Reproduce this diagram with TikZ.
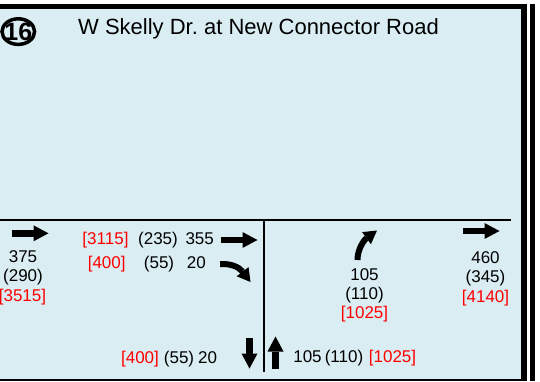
\documentclass[tikz,border=0pt]{standalone}
\usepackage{fontspec}
\setmainfont{Liberation Sans}
\usetikzlibrary{arrows.meta}
\definecolor{panelblue}{RGB}{218,237,243}
\definecolor{volred}{RGB}{255,0,0}
\begin{document}
\begin{tikzpicture}[x=1pt,y=-1pt,
  vol/.style={inner sep=0pt, anchor=base, font=\fontsize{17}{20}\selectfont},
  redvol/.style={vol, text=volred},
  fat/.style={line width=6.5pt, -{Triangle[length=15pt,width=16pt,line width=0pt]}},
  curvy/.style={line width=6pt, -{Triangle[length=13pt,width=15pt,line width=0pt]}},
  road/.style={line width=1.4pt, black}]
\useasboundingbox (0,0) rectangle (540,381);
\fill[white] (0,0) rectangle (540,381);
% panel
\fill[panelblue] (0,9) rectangle (521,378.5);
\fill[black] (0,4) rectangle (527,9);
\fill[black] (521,4) rectangle (527,381);
\fill[black] (0,378.5) rectangle (527,381);
\fill[black] (530,4) rectangle (535,381);
% number and title
\draw[line width=3.5pt] (18.3,31.6) ellipse [x radius=16.3, y radius=12.8];
\node (num) [inner sep=0pt, font=\fontsize{25}{25}\selectfont\bfseries] at (18.3,31.8) {16};
\node (title) [anchor=base west, inner sep=0pt, font=\fontsize{22}{26}\selectfont] at (78,34) {W Skelly Dr.\ at New Connector Road};
% road lines
\coordinate (hl) at (0,220);
\coordinate (hr) at (511,220);
\coordinate (vt) at (264,220);
\coordinate (vb) at (264,372);
\draw[road] (hl) -- (hr);
\draw[road] (vt) -- (vb);
% arrows
\coordinate (a1s) at (11.5,233.3); \coordinate (a1e) at (48.5,233.3);
\draw[fat] (a1s) -- (a1e);
\coordinate (a2s) at (220.5,240); \coordinate (a2e) at (257.5,240);
\draw[fat] (a2s) -- (a2e);
\coordinate (a3s) at (462.5,231); \coordinate (a3e) at (499.5,231);
\draw[fat] (a3s) -- (a3e);
\coordinate (a4s) at (249.5,338); \coordinate (a4e) at (249.5,368.5);
\draw[fat] (a4s) -- (a4e);
\coordinate (a5s) at (275.5,368.5); \coordinate (a5e) at (275.5,336.5);
\draw[fat] (a5s) -- (a5e);
\coordinate (rts) at (220,264); \coordinate (rte) at (250.5,282);
\draw[curvy] (rts) .. controls (231,263.5) and (239,267) .. (rte);
\coordinate (lts) at (357.5,260); \coordinate (lte) at (377,230.5);
\draw[curvy] (lts) .. controls (357.5,249) and (364,240) .. (lte);
% volumes left approach
\node (l1) [vol] at (23,262) {375};
\node (l2) [vol] at (23,281.5) {(290)};
\node (l3) [redvol] at (22.5,301) {[3515]};
% through row
\node (t1) [redvol] at (105.5,244) {[3115]};
\node (t2) [vol] at (158,244) {(235)};
\node (t3) [vol] at (199.7,244) {355};
% right-turn row
\node (r1) [redvol] at (106.7,268) {[400]};
\node (r2) [vol] at (159,268) {(55)};
\node (r3) [vol] at (196.3,268) {20};
% bottom left row
\node (b1) [redvol] at (140,363) {[400]};
\node (b2) [vol] at (179,363) {(55)};
\node (b3) [vol] at (207.5,363) {20};
% bottom right row
\node (c1) [vol] at (307.5,362) {105};
\node (c2) [vol] at (344,362) {(110)};
\node (c3) [redvol] at (392.5,362) {[1025]};
% left-turn volumes
\node (m1) [vol] at (364.5,280) {105};
\node (m2) [vol] at (364.5,299) {(110)};
\node (m3) [redvol] at (364.5,318) {[1025]};
% right approach
\node (e1) [vol] at (485.5,263) {460};
\node (e2) [vol] at (485.5,282.5) {(345)};
\node (e3) [redvol] at (485.5,302) {[4140]};
\end{tikzpicture}
\end{document}
